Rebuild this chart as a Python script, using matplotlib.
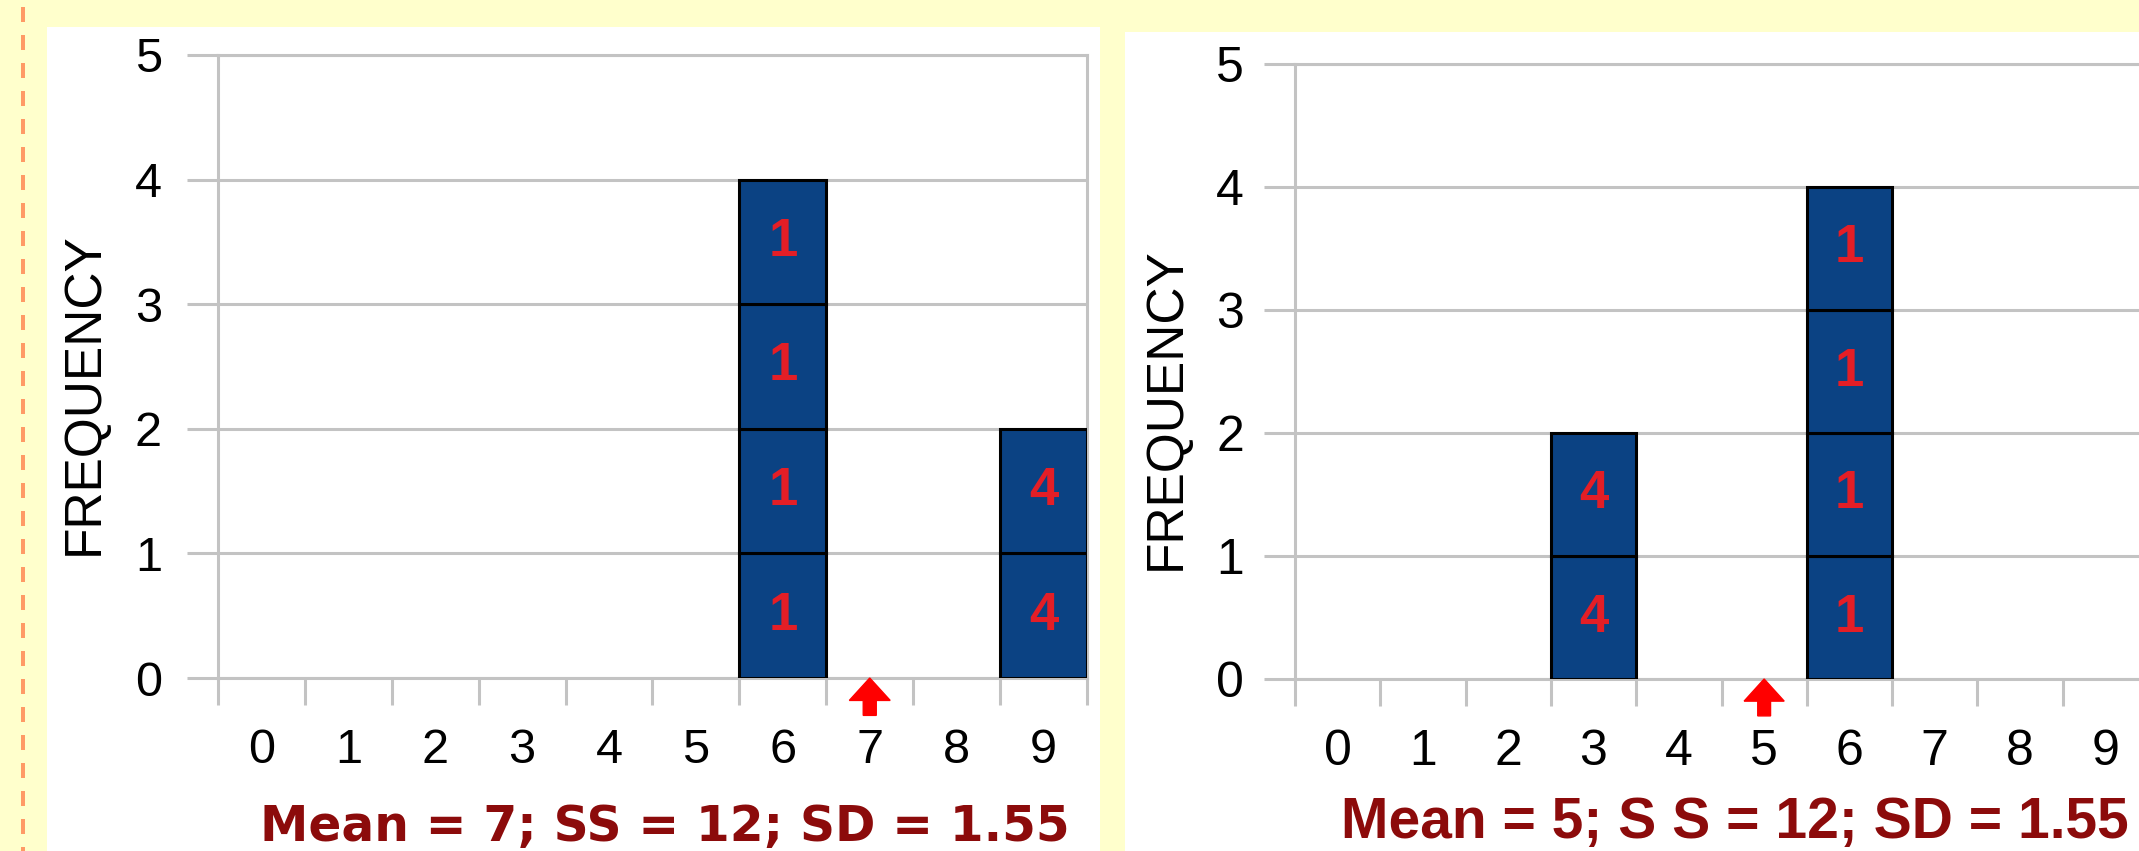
import numpy as np
import matplotlib
matplotlib.use('Agg')
import matplotlib.pyplot as plt
from matplotlib.patches import Rectangle
from matplotlib.lines import Line2D

# 데이터
categories = list(range(10))
scores_left = [6, 6, 6, 6, 9, 9]
scores_right = [3, 3, 6, 6, 6, 6]
stats_left = 'Mean = 7; SS = 12; SD = 1.55'
stats_right = 'Mean = 5; S S = 12; SD = 1.55'
yticks = [0, 1, 2, 3, 4, 5]

plt.rcParams['font.family'] = ['Liberation Sans', 'DejaVu Sans']

W, H = 2139, 851
fig = plt.figure(figsize=(W / 100, H / 100), dpi=100, facecolor='#FFFFCC')

BAR = '#0B4283'
GRID = '#C3C3C3'
RED = '#E41E26'
DARKRED = '#8C0B0B'


def px_box(x0, y_top, x1, y_bottom):
    return [x0 / W, 1 - y_bottom / H, (x1 - x0) / W, (y_bottom - y_top) / H]


# 흰색 패널과 왼쪽 점선
fig.add_artist(Rectangle((47 / W, 0), (1100 - 47) / W, 1 - 27 / H, transform=fig.transFigure,
                         facecolor='white', edgecolor='none', zorder=-1))
fig.add_artist(Rectangle((1125 / W, 0), (W - 1125) / W, 1 - 32 / H, transform=fig.transFigure,
                         facecolor='white', edgecolor='none', zorder=-1))
fig.add_artist(Line2D([23 / W, 23 / W], [1 - 7 / H, 0], transform=fig.transFigure,
                      color='#FF9A66', lw=2.88, linestyle=(0, (3.75, 3.25))))


def draw_panel(box, scores, tick_size, ylabel_pos, ypad):
    ax = fig.add_axes(box)
    ax.set_facecolor('white')
    mean = np.mean(scores)

    # 단위 상자로 쌓은 막대 + 편차 제곱 숫자
    level = {}
    for s in scores:
        k = level.get(s, 0)
        ax.bar(s, 1, bottom=k, width=1.0, color=BAR, edgecolor='black', linewidth=2.2, zorder=3)
        ax.text(s, k + 0.5, f'{int((s - mean) ** 2)}', color=RED, fontsize=38, fontweight='bold',
                ha='center', va='center', zorder=4)
        level[s] = k + 1

    # 평균 위치 화살표
    ax.arrow(mean, -0.30, 0, 0.30, width=0.15, head_width=0.47, head_length=0.18,
             length_includes_head=True, color='#FF0000', clip_on=False, zorder=5)

    ax.set_xlim(-0.5, 9.5)
    ax.set_ylim(0, 5)
    ax.set_yticks(yticks)
    ax.set_xticks(np.arange(-0.5, 10, 1))
    ax.set_xticklabels([])
    ax.set_xticks(categories, minor=True)
    ax.set_xticklabels([str(c) for c in categories], minor=True, fontsize=tick_size)
    ax.tick_params(axis='x', which='major', length=19.4, width=2.2, color=GRID, direction='out')
    ax.tick_params(axis='x', which='minor', length=0, pad=36)
    ax.tick_params(axis='y', length=22.3, width=2.2, color=GRID, pad=ypad, labelsize=tick_size)
    ax.yaxis.grid(True, color=GRID, linewidth=2.2)
    ax.set_axisbelow(True)
    for sp in ax.spines.values():
        sp.set_color(GRID)
        sp.set_linewidth(2.2)

    ax.set_ylabel('FREQUENCY', fontsize=37)
    ax.yaxis.label.set_va('center')
    ax.yaxis.set_label_coords(*ylabel_pos)
    return ax


ax1 = draw_panel(px_box(218, 55, 1087, 678), scores_left, 35, (-0.154, 0.456), 18)
ax2 = draw_panel(px_box(1295, 64, 2148, 679), scores_right, 36, (-0.151, 0.439), 14.4)

# 아래쪽 통계 문구
fig.text(665 / W, 1 - 841 / H, stats_left, color=DARKRED, fontsize=35, fontweight='bold',
         family='DejaVu Sans', ha='center', va='baseline')
fig.text(1735 / W, 1 - 838 / H, stats_right, color=DARKRED, fontsize=41, fontweight='bold',
         ha='center', va='baseline')

plt.savefig('out.png', dpi=100, facecolor=fig.get_facecolor())
